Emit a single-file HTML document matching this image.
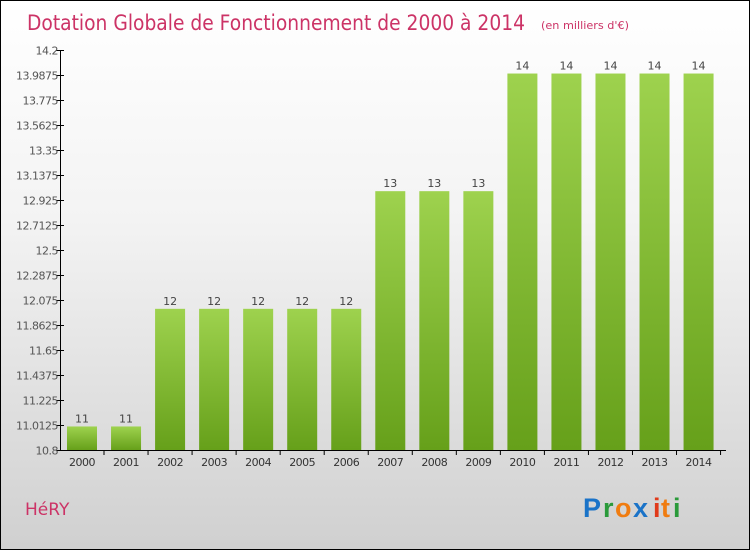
<!DOCTYPE html>
<html><head><meta charset="utf-8"><style>
body{margin:0;width:750px;height:550px;overflow:hidden;font-family:"DejaVu Sans","Liberation Sans",sans-serif}
#root{position:relative;width:748px;height:548px;border:1px solid #000;background:linear-gradient(#ffffff 0%,#f3f3f3 40%,#d0d0d0 100%)}
</style></head><body>
<div id="root">
<svg id="svg" width="748" height="548" style="position:absolute;left:0;top:0">
<defs><linearGradient id="bg" x1="0" y1="0" x2="0" y2="1"><stop offset="0" stop-color="#9ed24e"/><stop offset="1" stop-color="#66a01a"/></linearGradient></defs>
<text x="26" y="29" font-size="21" fill="#cc3366" textLength="498" lengthAdjust="spacingAndGlyphs">Dotation Globale de Fonctionnement de 2000 à 2014</text>
<text x="540" y="28" font-size="11" fill="#cc3366" textLength="88" lengthAdjust="spacingAndGlyphs">(en milliers d'€)</text>
<text x="24" y="514" font-size="17" fill="#cc3366">HéRY</text>
<g font-size="27" font-weight="bold" font-family="Liberation Sans, sans-serif">
<text x="582" y="516" fill="#1a73c8">P</text><text x="602" y="516" fill="#2a9a3a">r</text><text x="614" y="516" fill="#f07c10">o</text><text x="632" y="516" fill="#1a73c8">x</text><text x="652" y="516" fill="#e03a1a">i</text><text x="660" y="516" fill="#f07c10">t</text><text x="672" y="516" fill="#2a9a3a">i</text></g>
<g id="axes"></g><g id="bars"></g>
</svg></div>
<script>
const years=["2000","2001","2002","2003","2004","2005","2006","2007","2008","2009","2010","2011","2012","2013","2014"];
const values=[11,11,12,12,12,12,12,13,13,13,14,14,14,14,14];
const tickLabels=["10.8","11.0125","11.225","11.4375","11.65","11.8625","12.075","12.2875","12.5","12.7125","12.925","13.1375","13.35","13.5625","13.775","13.9875","14.2"];
const yMin=10.8,yMax=14.2,yTop=49,yBot=449;
const yS=v=>yBot-(v-yMin)/(yMax-yMin)*(yBot-yTop);
const xS=i=>81+i*44.04;
const NS="http://www.w3.org/2000/svg";
const ax=document.getElementById('axes'),bg=document.getElementById('bars');
function mk(tag,at,p){const e=document.createElementNS(NS,tag);for(const k in at)e.setAttribute(k,at[k]);p.appendChild(e);return e;}
const yl=mk('line',{x1:59.5,y1:yTop,x2:59.5,y2:yBot,stroke:'#000'},ax);


const xl=mk('line',{x1:59.5,y1:yBot+0.5,x2:725,y2:yBot+0.5,stroke:'#000'},ax);


tickLabels.forEach(t=>{const v=parseFloat(t),yy=Math.round(yS(v))+0.5;
 mk('line',{x1:55,y1:yy,x2:63,y2:yy,stroke:'#000'},ax);
 const tx=mk('text',{x:57,y:yy+4,'text-anchor':'end','font-size':11,fill:'#555','letter-spacing':'-0.5'},ax);tx.textContent=t;
 
 });
years.forEach((yr,i)=>{const cx=xS(i);
 mk('line',{x1:cx+22,y1:yBot,x2:cx+22,y2:yBot+5,stroke:'#000'},ax);
 const lt=mk('text',{x:cx,y:yBot+16,'text-anchor':'middle','font-size':11,fill:'#333','letter-spacing':'-0.5'},ax);lt.textContent=yr;
 
 
 const r=mk('rect',{x:cx-15,y:yS(values[i]),width:30,height:yBot-yS(values[i]),fill:'url(#bg)'},bg);
 
 
 const vl=mk('text',{x:cx,y:yS(values[i])-4,'text-anchor':'middle','font-size':11,fill:'#444'},bg);vl.textContent=values[i];
 
 });
</script></body></html>
